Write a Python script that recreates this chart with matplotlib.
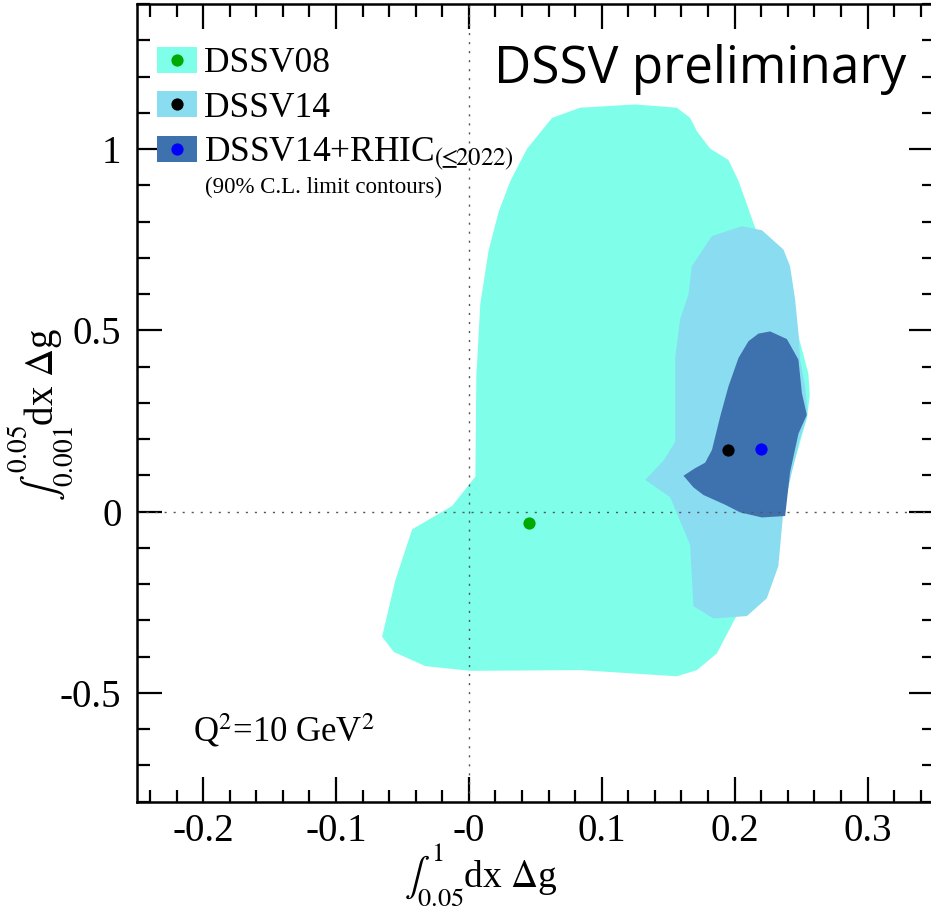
import matplotlib
matplotlib.use("Agg")
import matplotlib.pyplot as plt
from matplotlib.patches import Patch
from matplotlib.lines import Line2D
from matplotlib.legend_handler import HandlerTuple
from matplotlib.ticker import MultipleLocator

plt.rcParams['font.family'] = ['Liberation Serif', 'DejaVu Serif']
plt.rcParams['mathtext.fontset'] = 'stix'

# 90% C.L. limit contours
dssv08_x = [0.0838, 0.1252, 0.1565, 0.1665, 0.1716, 0.1816, 0.1953, 0.2029, 0.2079, 0.2154,
            0.222, 0.235, 0.243, 0.249, 0.2555, 0.2565, 0.2545, 0.246, 0.236, 0.226, 0.214,
            0.2004, 0.1866, 0.1716, 0.1565, 0.0838, 0.0011, -0.0327, -0.0565, -0.0653,
            -0.0553, -0.0427, -0.0126, 0.0049, 0.0056, 0.0086, 0.0149, 0.0224, 0.0312,
            0.0438, 0.0626]
dssv08_y = [1.114, 1.123, 1.114, 1.086, 1.049, 1.001, 0.970, 0.912, 0.861, 0.783,
            0.74, 0.66, 0.56, 0.47, 0.38, 0.32, 0.26, 0.15, 0.03, -0.08, -0.2,
            -0.2945, -0.391, -0.437, -0.454, -0.437, -0.439, -0.426, -0.387, -0.345,
            -0.189, -0.0487, 0.0157, 0.0967, 0.373, 0.574, 0.721, 0.827, 0.912,
            1.001, 1.086]

dssv14_x = [0.1678, 0.1829, 0.2054, 0.2205, 0.2367, 0.2417, 0.2455, 0.248, 0.2492, 0.253,
            0.2545, 0.2545, 0.249, 0.2425, 0.2367, 0.2329, 0.2242, 0.2092, 0.1841, 0.169,
            0.1665, 0.1515, 0.1327, 0.1465, 0.1553, 0.1553, 0.159, 0.1653]
dssv14_y = [0.677, 0.760, 0.787, 0.776, 0.723, 0.677, 0.585, 0.493, 0.419, 0.345,
            0.29, 0.262, 0.2, 0.1, 0.003, -0.150, -0.239, -0.288, -0.2945, -0.2605,
            -0.0917, 0.040, 0.0878, 0.1406, 0.193, 0.426, 0.531, 0.600]

rhic_x = [0.2179, 0.2267, 0.2393, 0.248, 0.2506, 0.2543, 0.248, 0.2417, 0.238, 0.2205,
          0.2041, 0.1929, 0.1765, 0.169, 0.1615, 0.1703, 0.1778, 0.1829, 0.1891, 0.1953,
          0.2029, 0.2104]
rhic_y = [0.491, 0.497, 0.476, 0.419, 0.327, 0.267, 0.215, 0.109, -0.012, -0.016,
          -0.002, 0.019, 0.046, 0.067, 0.099, 0.120, 0.135, 0.170, 0.262, 0.345,
          0.424, 0.470]

# central values
best_x = [0.045, 0.195, 0.2197]
best_y = [-0.032, 0.170, 0.174]

names = ['DSSV08', 'DSSV14', r'DSSV14+RHIC$_{(\!\!\leq\!\!2022)}$']
fill_colors = ['#7ffee9', '#8adcf1', '#3d72ae']
dot_colors = ['#00aa00', 'black', 'blue']

xticks = [-0.2, -0.1, 0, 0.1, 0.2, 0.3]
xticklabels = ['-0.2', '-0.1', '-0', '0.1', '0.2', '0.3']
yticks = [-0.5, 0, 0.5, 1]
yticklabels = ['-0.5', '0', '0.5', '1']

fig = plt.figure(figsize=(9.31, 9.09), dpi=100)
ax = fig.add_axes([0.1468, 0.118, 0.8564, 0.8776])

contours = [(dssv08_x, dssv08_y), (dssv14_x, dssv14_y), (rhic_x, rhic_y)]
for (cx, cy), c in zip(contours, fill_colors):
    ax.fill(cx, cy, color=c, lw=0, zorder=1)

ax.axvline(0, color='#555555', lw=1, ls=(0, (1.5, 5)), zorder=2)
ax.axhline(0, color='#555555', lw=1, ls=(0, (1.5, 5)), zorder=2)

for bx, by, c in zip(best_x, best_y, dot_colors):
    ax.plot(bx, by, 'o', color=c, ms=8.8, mec='none', zorder=3)

ax.set_xlim(-0.25, 0.35)
ax.set_ylim(-0.8, 1.4)
ax.set_xticks(xticks)
ax.set_xticklabels(xticklabels)
ax.set_yticks(yticks)
ax.set_yticklabels(yticklabels)
ax.xaxis.set_minor_locator(MultipleLocator(0.02))
ax.yaxis.set_minor_locator(MultipleLocator(0.1))
ax.tick_params(which='both', direction='in', top=True, right=True, width=1.6,
               labelsize=28)
ax.tick_params(which='major', length=18)
ax.tick_params(which='minor', length=9)
ax.tick_params(axis='x', pad=8)
ax.tick_params(axis='y', pad=11)
for s in ax.spines.values():
    s.set_linewidth(1.8)

ax.set_xlabel(r'$\int_{0.05}^{1}$dx $\Delta$g', fontsize=27)
ax.xaxis.set_label_coords(0.432, -0.092)
ax.xaxis.label.set_va('center')
ax.set_ylabel(r'$\int_{0.001}^{0.05}$dx $\Delta$g', fontsize=28)
ax.yaxis.set_label_coords(-0.119, 0.485)
ax.yaxis.label.set_va('center')

handles = [(Patch(facecolor=f, edgecolor='none'),
            Line2D([], [], marker='o', color=d, ls='none', ms=8.8, mec='none'))
           for f, d in zip(fill_colors, dot_colors)]
ax.legend(handles, names, handler_map={tuple: HandlerTuple(ndivide=1)},
          loc='upper left', bbox_to_anchor=(0.025, 0.946), frameon=False,
          fontsize=25.5, handlelength=1.13, handleheight=0.75,
          handletextpad=0.22, labelspacing=0.31, borderaxespad=0, borderpad=0)
ax.text(0.0855, 0.763, '(90% C.L. limit contours)', transform=ax.transAxes,
        fontsize=16.5, va='baseline', ha='left')

ax.text(0.9657, 0.9006, 'DSSV preliminary', transform=ax.transAxes,
        fontsize=37, family='Open Sans', va='baseline', ha='right')
ax.text(0.0706, 0.0752, r'Q$^2$=10 GeV$^2$', transform=ax.transAxes,
        fontsize=25, va='baseline', ha='left')

fig.savefig('out.png', dpi=100)
